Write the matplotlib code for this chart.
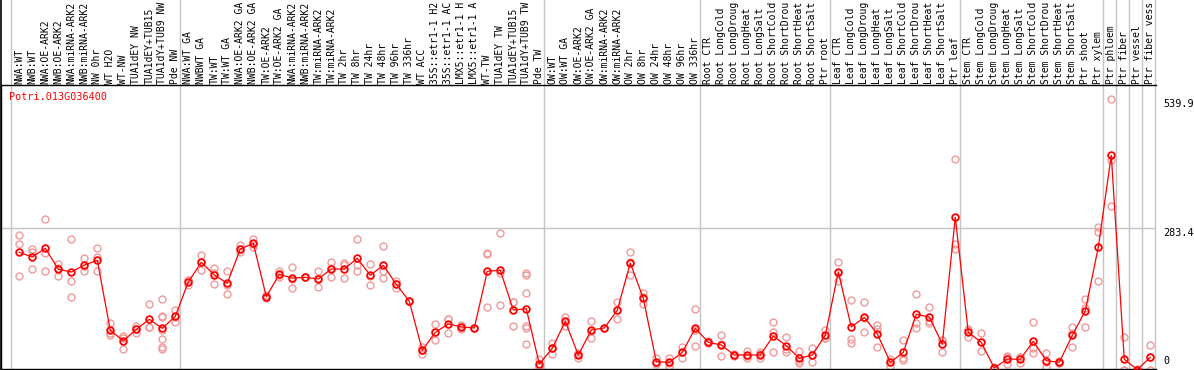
import matplotlib.pyplot as plt

gene = 'Potri.013G036400'

# column labels as far as they show in the header
labels = [
    'NWA:WT', 'NWB:WT', 'NWA:OE-ARK2', 'NWB:OE-ARK2', 'NWA:miRNA-ARK2', 'NWB:miRNA-ARK2',
    'NW 0hr', 'WT H2O', 'WT-NW', 'TUA1dEY NW', 'TUA1dEY+TUB15', 'TUA1dY+TUB9 NW', 'Pde NW',
    'NWA:WT GA', 'NWBWT GA', 'TW:WT', 'TW:WT GA', 'NWA:OE-ARK2 GA', 'NWB:OE-ARK2 GA',
    'TW:OE-ARK2', 'TW:OE-ARK2 GA', 'NWA:miRNA-ARK2', 'NWB:miRNA-ARK2', 'TW:miRNA-ARK2',
    'TW:miRNA-ARK2', 'TW 2hr', 'TW 8hr', 'TW 24hr', 'TW 48hr', 'TW 96hr', 'TW 336hr', 'WT ACC',
    '35S::etr1-1 H2', '35S::etr1-1 AC', 'LMX5::etr1-1 H', 'LMX5::etr1-1 A', 'WT-TW',
    'TUA1dEY TW', 'TUA1dEY+TUB15', 'TUA1dY+TUB9 TW', 'Pde TW',
    'OW:WT', 'OW:WT GA', 'OW:OE-ARK2', 'OW:OE-ARK2 GA', 'OW:miRNA-ARK2', 'OW:miRNA-ARK2',
    'OW 2hr', 'OW 8hr', 'OW 24hr', 'OW 48hr', 'OW 96hr', 'OW 336hr',
    'Root CTR', 'Root LongCold', 'Root LongDroug', 'Root LongHeat', 'Root LongSalt',
    'Root ShortCold', 'Root ShortDrou', 'Root ShortHeat', 'Root ShortSalt', 'Ptr root',
    'Leaf CTR', 'Leaf LongCold', 'Leaf LongDroug', 'Leaf LongHeat', 'Leaf LongSalt',
    'Leaf ShortCold', 'Leaf ShortDrou', 'Leaf ShortHeat', 'Leaf ShortSalt', 'Ptr leaf',
    'Stem CTR', 'Stem LongCold', 'Stem LongDroug', 'Stem LongHeat', 'Stem LongSalt',
    'Stem ShortCold', 'Stem ShortDrou', 'Stem ShortHeat', 'Stem ShortSalt', 'Ptr shoot',
    'Ptr xylem', 'Ptr phloem', 'Ptr fiber', 'Ptr vessel', 'Ptr fiber vess',
]
group_sizes = [13, 28, 12, 10, 10, 11, 1, 1, 1, 1]

means = [
    234.5, 225, 242.5, 200.6, 195.2, 209, 218.5, 79, 58, 81, 101, 83, 107,
    175.4, 214.6, 189.3, 172.7, 241, 252.3, 146, 190.6, 183, 184.6, 181.4, 201.2, 201.2,
    222.6, 188.7, 208.6, 170.7, 136.8, 39.3, 75, 91.7, 85.7, 83.7, 196.7, 198.6, 119.6,
    122, 12,
    43.2, 97, 29.9, 79.7, 83.7, 118.9, 213.2, 142.8, 16.5, 15.3, 35.2, 83.1,
    55.2, 49.8, 29.9, 29.9, 29.9, 67.7, 48.4, 23.3, 29.9, 69.1,
    195.3, 85.7, 105, 72, 15.3, 35.2, 111, 105.6, 51.8, 304.2,
    75, 55.2, 4, 21.9, 21.3, 57.2, 18.6, 15.3, 69.1, 118, 244.4,
    427.7, 21.3, 1, 25.3,
]

reps = [
    [269, 250.4, 186.7], [240.5, 200.6, 234.3], [300.8, 232.5, 197.2], [211.1, 187.9, 202.8],
    [260.2, 176.7, 144.9], [222.6, 197.2, 207], [243, 225, 197], [93.7, 70.3, 73],
    [67.7, 42.4, 63], [87.7, 74.3, 81], [130.9, 86.3, 85.8],
    [141.5, 107, 105, 79.7, 61.1, 46.4, 42.4], [119.6, 95, 106.5],
    [179.4, 168.6, 178.4], [229, 198.6, 215.9], [203, 170.7, 194.2], [197.2, 150.8, 169.5],
    [248.4, 234.6, 240.5], [260.4, 245.6, 251.3], [149.4, 143, 146], [196.7, 188.7, 186],
    [204.6, 162.7, 180.4], [184.5, 185, 184.3], [197.2, 164.7, 182.4], [214.6, 184.6, 204],
    [212.6, 182.7, 208.3], [260.4, 197.2, 210], [210.5, 168.8, 186.3], [246.4, 196.7, 182.7],
    [177.3, 162.7, 171.5], [137.5, 136.5, 137], [46.4, 31.3, 39.5], [91, 59.8, 75],
    [101, 73.2, 101], [82, 85.7, 89], [83.8, 83, 84.5], [232.5, 126, 231.3], [273, 129, 194],
    [135.5, 87.7, 135.7], [192.6, 188.7, 152.8, 87.7, 83.1, 51.2], [21.3, 6.5, 8],
    [54.4, 31.9, 43.4], [106.2, 96.6, 88.2], [32.6, 33.6, 23.7], [97.6, 63.1, 77.9],
    [84, 83.5, 83.7], [135.5, 101, 120.3], [235, 189.3, 214.9], [152.8, 130.9, 144.9],
    [23.9, 13.3, 11.9], [23.9, 7.9, 13.8], [46.4, 23.3, 35.5], [121.6, 47.8, 79.9],
    [54, 57.2, 54.3], [69.7, 27.3, 52.3], [32.6, 29.6, 27.6], [38.5, 23.3, 27.6],
    [35.2, 23.3, 31.2], [95, 75.1, 35.2], [66.4, 36.5, 42.4], [38.5, 13.3, 17.8],
    [43.2, 15.3, 30.6], [79.7, 63.1, 64.1],
    [215.2, 177.3, 193.2], [139.5, 61.1, 53.2], [135.5, 75.1, 104.5], [89, 45.2, 82],
    [21.2, 8.6, 16], [59.8, 23.2, 19.9], [150.7, 92.9, 83], [124.8, 98.3, 92.9],
    [59.8, 35.2, 60], [421, 250.3, 241],
    [81, 65, 79], [73, 37.8, 55], [6.6, 2.7, 3], [26.6, 12, 27], [25.2, 13.3, 25.4],
    [94.9, 33.2, 43], [34.5, 5.3, 16], [18.6, 13.3, 14], [86.3, 46.5, 74.5],
    [141.4, 123.5, 86.3], [285.5, 274.2, 177.3],
    [539.9, 418.3, 326.7], [65, 1, 0], [2, 1, 0], [49, 1, 25],
]

axis_labels = ['539.9', '283.4', '0']
axis_values = [539.9, 283.4, 0]
grid_value = 283.4

W, H = 1194, 370
mono = 'DejaVu Sans Mono'
grey = '#c4c4c4'

fig = plt.figure(figsize=(W / 100, H / 100), dpi=100)
ax = fig.add_axes([1 / W, 1 / H, 1155 / W, 284 / H])
ax.set_xlim(-1.408, 87.44)
ax.set_ylim(2.0, 567.7)
ax.set_xticks([])
ax.set_yticks([])
ax.spines['right'].set_visible(False)
for s in ['left', 'top', 'bottom']:
    ax.spines[s].set_linewidth(1.0)
top_ext = H / 284.0

# group separators, running through the header
pos = 0
seps = [0]
for g in group_sizes:
    pos += g
    seps.append(pos)
for k in seps:
    ax.axvline(k - 0.66, 0, top_ext, color=grey, lw=1, clip_on=False, zorder=0)
ax.axvline(-1.408, 0, top_ext, color='black', lw=1.2, clip_on=False)
ax.axhline(grid_value, color=grey, lw=1, zorder=0)

# column labels
for i, lab in enumerate(labels):
    ax.text(i, 1 + 1.5 / 284, lab, transform=ax.get_xaxis_transform(), rotation=90,
            ha='center', va='bottom', fontsize=7, family=mono, clip_on=False)

# replicates and means
for i, r in enumerate(reps):
    ax.plot([i] * len(r), r, 'o', mfc='none', mec='#f09a9a', ms=5, mew=1.0,
            clip_on=False, zorder=2)
ax.plot(range(len(means)), means, '-o', color='red', lw=0.9, mfc='none', ms=4.8,
        mew=1.3, clip_on=False, zorder=3)

# right value labels
for txt, v in zip(axis_labels, axis_values):
    va = 'bottom' if v == 0 else 'top'
    dy = 4 if v == 0 else 0
    ax.annotate(txt, xy=(1, v), xycoords=ax.get_yaxis_transform(), xytext=(7, dy),
                textcoords='offset pixels', ha='left', va=va, fontsize=7.3, family=mono,
                annotation_clip=False)

fig.text(9.5 / W, 1 - 97 / H, gene, color='red', family=mono, fontsize=7.3,
         ha='left', va='center')

fig.savefig('out.png', dpi=100)
